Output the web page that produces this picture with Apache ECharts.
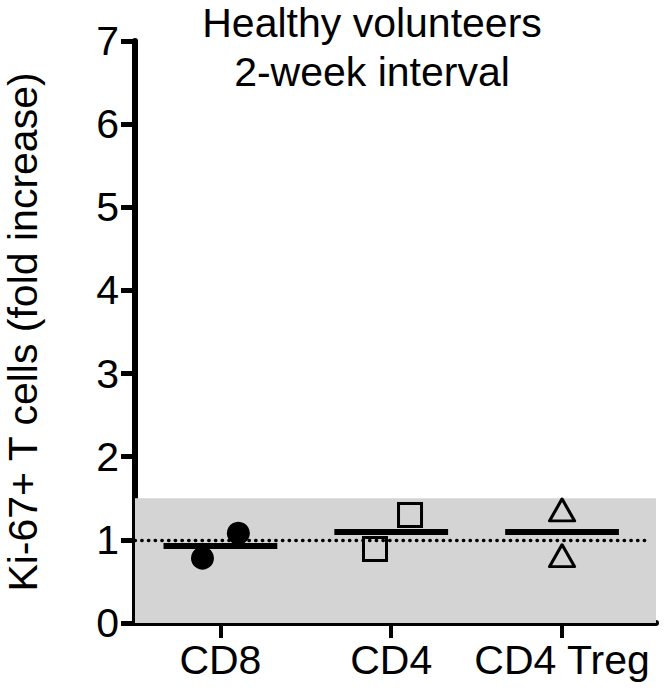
<!DOCTYPE html>
<html>
<head>
<meta charset="utf-8">
<script src="https://cdn.jsdelivr.net/npm/echarts@6/dist/echarts.min.js"></script>
<style>
html,body{margin:0;padding:0;background:#fff;}
#chart{width:670px;height:691px;}
</style>
</head>
<body>
<div id="chart"></div>
<script>
// ---- data ----
var categories = ['CD8', 'CD4', 'CD4 Treg'];
var cd8Values = [0.78, 1.08];
var cd4Values = [0.89, 1.30];
var tregValues = [1.36, 0.81];
var meanValues = [0.93, 1.10, 1.10];
var yTicks = [0, 1, 2, 3, 4, 5, 6, 7];
var referenceLevel = 1;
var normalRange = [0, 1.5];
var titleLines = ['Healthy volunteers', '2-week interval'];
var yAxisTitle = 'Ki-67+ T cells (fold increase)';

// ---- layout ----
var FONT = '"Liberation Sans", Arial, Helvetica, sans-serif';
var FS = 41;
var jitter = [[-0.105, 0.105], [-0.095, 0.11], [0, 0]];
var halfWidth = 0.333;

function pts(ci, vals) {
  return vals.map(function (v, i) { return [ci + 1 + jitter[ci][i], v]; });
}

var meanSegments = meanValues.map(function (m, i) {
  return [{ coord: [i + 1 - halfWidth, m] }, { coord: [i + 1 + halfWidth, m] }];
});

var titleGraphics = titleLines.map(function (t, i) {
  return {
    type: 'text',
    x: 372,
    y: 2 + i * 49,
    style: {
      text: t,
      fontSize: FS,
      fontFamily: FONT,
      lineHeight: FS,
      align: 'center',
      verticalAlign: 'top',
      fill: '#000'
    }
  };
});

var chart = echarts.init(document.getElementById('chart'), null, { renderer: 'svg' });
chart.setOption({
  animation: false,
  backgroundColor: '#fff',
  graphic: titleGraphics,
  grid: { left: 135, right: 14, top: 41, bottom: 68, containLabel: false, outerBoundsMode: 'none' },
  xAxis: {
    type: 'value',
    min: 0.5,
    max: 3.55,
    splitLine: { show: false },
    axisLine: { show: true, onZero: false, lineStyle: { color: '#000', width: 6 } },
    axisTick: { show: true, length: 15, lineStyle: { color: '#000', width: 4 }, customValues: [1, 2, 3] },
    axisLabel: {
      show: true,
      customValues: [1, 2, 3],
      margin: 16,
      fontSize: FS,
      fontFamily: FONT,
      color: '#000',
      formatter: function (v) { return categories[Math.round(v) - 1]; }
    }
  },
  yAxis: {
    type: 'value',
    min: yTicks[0],
    max: yTicks[yTicks.length - 1],
    interval: 1,
    name: yAxisTitle,
    nameLocation: 'middle',
    nameGap: 92,
    nameTextStyle: { fontSize: FS, fontFamily: FONT, color: '#000' },
    splitLine: { show: false },
    axisLine: { show: true, lineStyle: { color: '#000', width: 6 } },
    axisTick: { show: true, length: 14, lineStyle: { color: '#000', width: 5 } },
    axisLabel: { margin: 16, fontSize: FS, fontFamily: FONT, color: '#000' }
  },
  series: [
    {
      type: 'line',
      data: [],
      silent: true,
      z: 1,
      markArea: {
        silent: true,
        itemStyle: { color: '#d4d4d4' },
        data: [[{ yAxis: normalRange[0] }, { yAxis: normalRange[1] }]]
      },
      markLine: {
        silent: true,
        symbol: 'none',
        label: { show: false },
        lineStyle: { color: '#000', width: 3.3, type: [0.5, 6.2], cap: 'round' },
        data: [[{ coord: [0.5, referenceLevel] }, { coord: [3.5, referenceLevel] }]]
      }
    },
    {
      type: 'line',
      data: [],
      silent: true,
      z: 3,
      markLine: {
        silent: true,
        symbol: 'none',
        label: { show: false },
        lineStyle: { color: '#000', width: 6, type: 'solid', cap: 'butt' },
        data: meanSegments
      }
    },
    {
      name: categories[0],
      type: 'scatter',
      z: 5,
      symbol: 'circle',
      symbolSize: 23,
      itemStyle: { color: '#000', opacity: 1 },
      data: pts(0, cd8Values)
    },
    {
      name: categories[1],
      type: 'scatter',
      z: 5,
      symbol: 'rect',
      symbolSize: 23,
      itemStyle: { color: 'rgba(0,0,0,0)', borderColor: '#000', borderWidth: 3, opacity: 1 },
      data: pts(1, cd4Values)
    },
    {
      name: categories[2],
      type: 'scatter',
      z: 5,
      symbol: 'triangle',
      symbolSize: [25, 22],
      itemStyle: { color: 'rgba(0,0,0,0)', borderColor: '#000', borderWidth: 3, borderJoin: 'round', opacity: 1 },
      data: pts(2, tregValues)
    }
  ]
});
</script>
</body>
</html>
